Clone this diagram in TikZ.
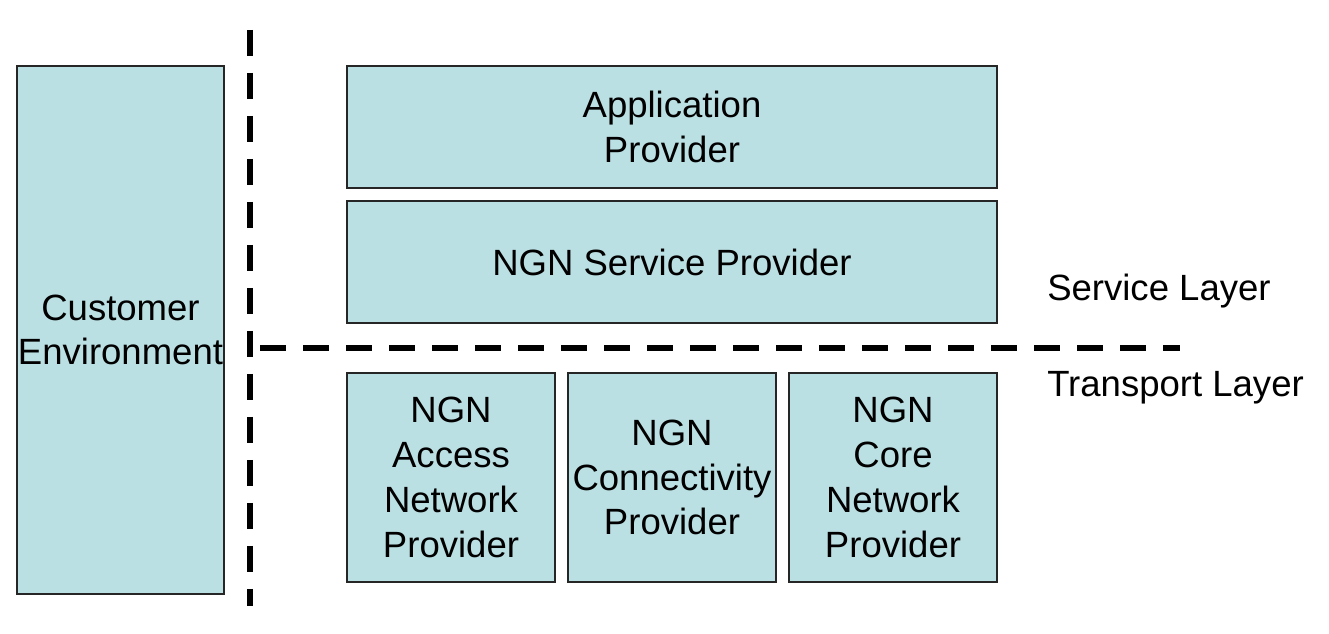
\documentclass[tikz,border=0pt]{standalone}
\usepackage{fontspec}
\setmainfont{Liberation Sans}
\definecolor{boxfill}{HTML}{BBE0E3}
\tikzset{
  box/.style={draw=black!85, line width=1.3pt, fill=boxfill, inner sep=0pt, align=center,
              font=\fontsize{27.4}{33.6}\selectfont},
  divider/.style={line width=4.5pt, dash pattern=on 19.5pt off 12.75pt},
  layerlabel/.style={anchor=west, inner sep=0pt, font=\fontsize{27.4}{33}\selectfont}
}
\begin{document}
\begin{tikzpicture}[x=0.75pt, y=-0.75pt]
\useasboundingbox (0,0) rectangle (1329,634);
\node[box, minimum width=155.25pt, minimum height=396pt] (cust) at (120.5,330) {Customer\\Environment};
\node[box, minimum width=487.5pt, minimum height=91.5pt] (app) at (672,127) {Application\\Provider};
\node[box, minimum width=487.5pt, minimum height=91.5pt] (svc) at (672,262) {NGN Service Provider};
\node[box, minimum width=156pt, minimum height=156.75pt] (acc) at (451,477.5) {NGN\\Access\\Network\\Provider};
\node[box, minimum width=156pt, minimum height=156.75pt] (con) at (672,477.5) {NGN\\Connectivity\\Provider};
\node[box, minimum width=156pt, minimum height=156.75pt] (core) at (893,477.5) {NGN\\Core\\Network\\Provider};
\coordinate (vtop) at (250,30);
\coordinate (vbot) at (250,606);
\coordinate (hl) at (260,348);
\coordinate (hr) at (1180,348);
\draw[divider] (vtop) -- (vbot);
\draw[divider] (hl) -- (hr);
\node[layerlabel] (sl) at (1047,291) {Service Layer};
\node[layerlabel] (tl) at (1047,388) {Transport Layer};
\end{tikzpicture}
\end{document}
